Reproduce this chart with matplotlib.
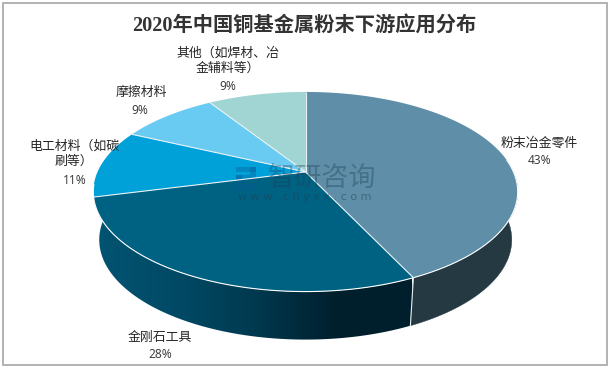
import numpy as np
import matplotlib
matplotlib.use("Agg")
import matplotlib.pyplot as plt
from matplotlib.colors import LinearSegmentedColormap
from matplotlib.patches import Polygon, Rectangle

plt.rcParams["font.family"] = ["Noto Sans CJK SC", "DejaVu Sans"]

# --- Data ---
labels = ["粉末冶金零件", "金刚石工具", "电工材料（如碳\n刷等）", "摩擦材料", "其他（如焊材、冶\n金辅料等）"]
values = [43, 28, 11, 9, 9]
percents = ["43%", "28%", "11%", "9%", "9%"]

# --- Styling ---
TOP_COLORS = ["#5f8fa8", "#006283", "#00a0d9", "#6acbf2", "#a0d5d3"]
SIDE_COLOR = "#253942"
WALL_CMAP = LinearSegmentedColormap.from_list("wall", ["#025472", "#014a66", "#003a50", "#00202e", "#001f2c"])

# pie geometry in pixels, perspective of the tilted disc
CX, CY = 305.5, 172
RX, RY, PERSP = 208, 95.9, 0.198
DEPTH, BASE_SHRINK = 48, 0.972


def project(frac):
    """Fraction of the circle, clockwise from top -> pixel position on the top face."""
    a = 2 * np.pi * np.asarray(frac, dtype=float)
    x, y = np.sin(a), np.cos(a)
    w = 1 + PERSP * y
    return CX + RX * x / w, CY - RY * y / w


def project_base(frac):
    x, y = project(frac)
    return CX + BASE_SHRINK * (x - CX), y + DEPTH


def wall_outline(f0, f1):
    f = np.linspace(f0, f1, 160)
    xt, yt = project(f)
    xb, yb = project_base(f)
    return np.r_[np.c_[xt, yt], np.c_[xb, yb][::-1]]


fig = plt.figure(figsize=(6.11, 3.68), dpi=100)
ax = fig.add_axes([0, 0, 1, 1])
ax.axis("off")

ax.add_patch(Rectangle((2.5, 2.5), 604.5, 362.8, fc="white", ec="#a6a6a6", lw=1.2, zorder=0))

edges = np.cumsum([0] + values) / sum(values)

# --- Side wall, front half only ---
ax.add_patch(Polygon(wall_outline(0.23, edges[1]), fc=SIDE_COLOR, ec=SIDE_COLOR, lw=0.3))

# second slice has a horizontal gradient, clipped to the wall shape
grad = np.linspace(0, 1, 256).reshape(1, -1)
im = ax.imshow(grad, cmap=WALL_CMAP, extent=(94, 412, 345, 190), aspect="auto", interpolation="bilinear", zorder=0.5)
clip = Polygon(wall_outline(edges[1], 0.77), transform=ax.transData, fc="none", ec="none")
ax.add_patch(clip)
im.set_clip_path(clip)

ax.set_xlim(0, 611)
ax.set_ylim(368, 0)

# --- Top face ---
for i, col in enumerate(TOP_COLORS):
    f = np.linspace(edges[i], edges[i + 1], 120)
    x, y = project(f)
    pts = np.r_[[[CX, CY]], np.c_[x, y]]
    ax.add_patch(Polygon(pts, fc=col, ec="none"))

for e in edges[:-1]:
    x, y = project(e)
    ax.plot([CX, x], [CY, y], color="#e8f2f5", lw=0.8, solid_capstyle="butt")

# white rim along the front, and the seam down the wall
f = np.linspace(0.23, 0.73, 200)
x, y = project(f)
ax.plot(x, y, color="white", lw=0.8)
xs, ys = project(edges[1])
xs2, ys2 = project_base(edges[1])
ax.plot([xs, xs2], [ys, ys2], color="#e8eef0", lw=0.8)

# --- Watermark ---
ax.add_patch(Rectangle((236, 167), 20, 5, fc="#0a5c96", alpha=0.35, ec="none"))
ax.add_patch(Rectangle((250, 167), 6, 13, fc="#0a5c96", alpha=0.35, ec="none"))
ax.add_patch(Rectangle((236, 175), 14, 5, fc="#0a5c96", alpha=0.35, ec="none"))
ax.add_patch(Rectangle((236, 175), 6, 14, fc="#0a5c96", alpha=0.35, ec="none"))
ax.add_patch(Rectangle((242, 184), 16, 5, fc="#0a5c96", alpha=0.35, ec="none"))
ax.text(322, 178, "智研咨询", fontsize=19.5, color="#1d3f55", alpha=0.38, ha="center", va="center")
ax.text(305, 196.5, "w w w . c h y x x . c o m", fontsize=8, color="#1d3f55", alpha=0.5, ha="center", va="center",
        fontfamily="DejaVu Sans")

# --- Title and labels ---
ax.text(304, 26, "2020年中国铜基金属粉末下游应用分布", fontsize=14.6, fontweight="bold", color="#333333",
        ha="center", va="center", family=["Liberation Serif", "Noto Sans CJK SC"])

label_pos = [(539.5, 143), (160, 337), (74, 154), (141, 92), (228, 61)]
pct_pos = [(539.5, 160), (160, 355), (75, 180), (140, 110), (228, 87)]
for name, pct, lp, pp in zip(labels, percents, label_pos, pct_pos):
    ax.text(lp[0], lp[1], name, fontsize=9.3, color="#262626", ha="center", va="center", linespacing=1.25)
    ax.text(pp[0], pp[1], pct, fontsize=8.6, color="#404040", ha="center", va="center", fontfamily="Noto Sans")

fig.savefig("out.png", dpi=100)
